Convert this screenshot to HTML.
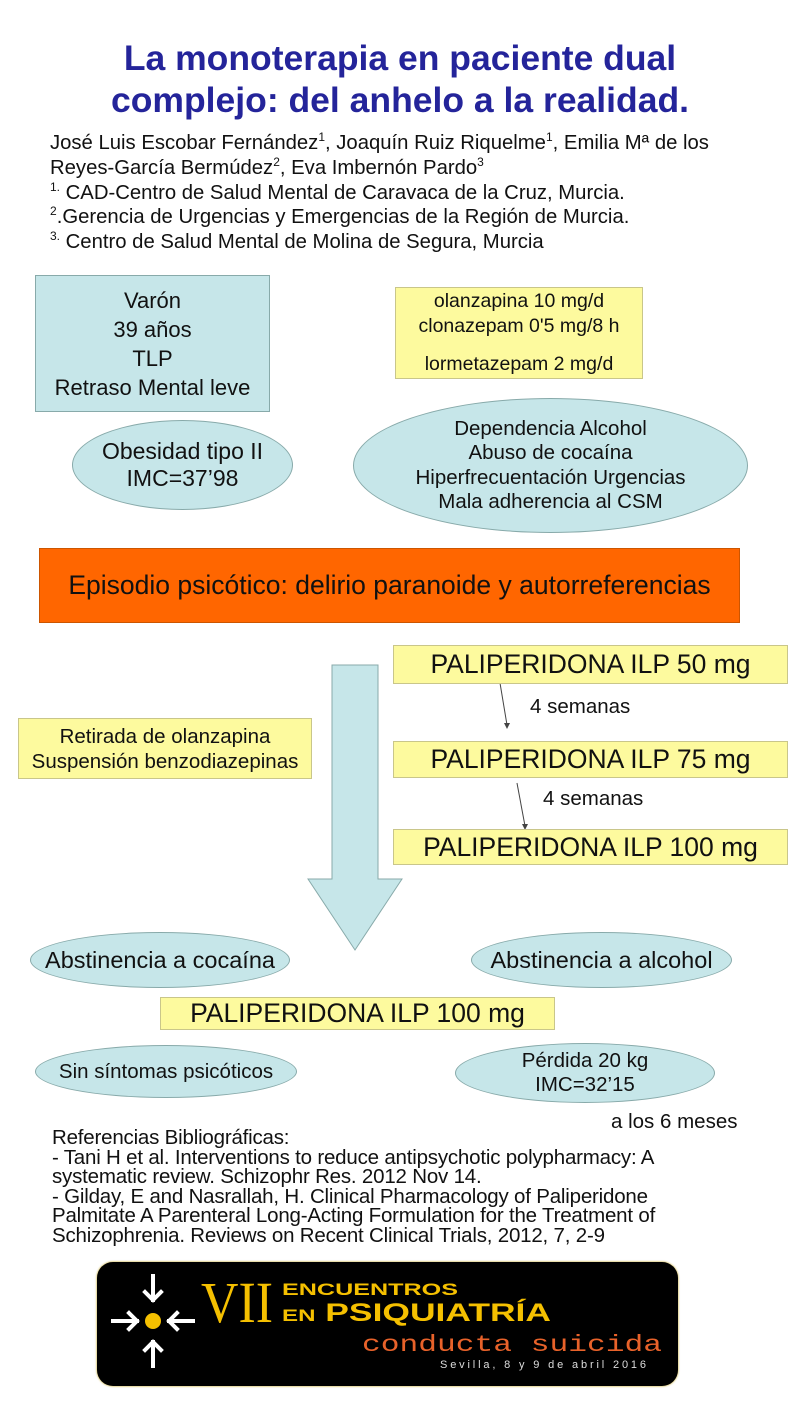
<!DOCTYPE html>
<html><head><meta charset="utf-8"><style>
*{margin:0;padding:0;box-sizing:border-box}
body{width:800px;height:1422px;background:#fff;position:relative;overflow:hidden;font-family:"Liberation Sans",Arial,sans-serif;color:#111}
.a{position:absolute}
.box{position:absolute;display:flex;flex-direction:column;align-items:center;justify-content:center;text-align:center;white-space:nowrap}
.y{background:#fdfa9e;border:1px solid #c9c68a}
.b{background:#c6e6e9;border:1px solid #8aa}
.e{background:#c6e6e9;border:1px solid #8aa;border-radius:50%}
.t{position:absolute;white-space:nowrap}
sup{font-size:12px;line-height:0}
</style></head><body>
<div class="box" style="left:0;top:34px;width:800px;height:90px;color:#24249a;font-weight:bold;font-size:35.5px;line-height:42px">La monoterapia en paciente dual<br>complejo: del anhelo a la realidad.</div>
<div class="a" style="left:50px;top:131px;font-size:20.3px;line-height:24.8px;white-space:nowrap">
José Luis Escobar Fernández<sup>1</sup>, Joaquín Ruiz Riquelme<sup>1</sup>, Emilia Mª de los<br>
Reyes-García Bermúdez<sup>2</sup>, Eva Imbernón Pardo<sup>3</sup><br>
<sup>1.</sup> CAD-Centro de Salud Mental de Caravaca de la Cruz, Murcia.<br>
<sup>2</sup>.Gerencia de Urgencias y Emergencias de la Región de Murcia.<br>
<sup>3.</sup> Centro de Salud Mental de Molina de Segura, Murcia</div>

<div class="box b" style="left:35px;top:275px;width:235px;height:137px;font-size:22px;line-height:29px">Varón<br>39 años<br>TLP<br>Retraso Mental leve</div>
<div class="box y" style="left:395px;top:287px;width:248px;height:92px;font-size:19.5px;line-height:25px">olanzapina 10 mg/d<br>clonazepam 0'5 mg/8 h<br><span style="margin-top:13px">lormetazepam 2 mg/d</span></div>
<div class="box e" style="left:72px;top:420px;width:221px;height:90px;font-size:23px;line-height:27px">Obesidad tipo II<br>IMC=37’98</div>
<div class="box e" style="left:353px;top:398px;width:395px;height:135px;font-size:20.5px;line-height:24.5px">Dependencia Alcohol<br>Abuso de cocaína<br>Hiperfrecuentación Urgencias<br>Mala adherencia al CSM</div>
<div class="box" style="left:39px;top:548px;width:701px;height:75px;background:#ff6600;border:1px solid #c50;font-size:26.5px">Episodio psicótico: delirio paranoide y autorreferencias</div>

<svg class="a" style="left:0;top:0" width="800" height="1422">
<polygon points="332,665 378,665 378,879 402,879 355,950 308,879 332,879" fill="#c6e6e9" stroke="#8aa" stroke-width="1"/>
<line x1="500" y1="683" x2="507" y2="725" stroke="#444" stroke-width="1"/>
<polygon points="504,723 510,723 507,729" fill="#444"/>
<line x1="517" y1="783" x2="525" y2="826" stroke="#444" stroke-width="1"/>
<polygon points="522,824 528,824 525,830" fill="#444"/>
</svg>
<div class="box y" style="left:393px;top:645px;width:395px;height:39px;font-size:26.5px">PALIPERIDONA ILP 50 mg</div>
<div class="box y" style="left:393px;top:741px;width:395px;height:37px;font-size:26.5px">PALIPERIDONA ILP 75 mg</div>
<div class="box y" style="left:393px;top:829px;width:395px;height:36px;font-size:26.5px">PALIPERIDONA ILP 100 mg</div>
<div class="t" style="left:530px;top:695px;font-size:20.5px">4 semanas</div>
<div class="t" style="left:543px;top:787px;font-size:20.5px">4 semanas</div>
<div class="box y" style="left:18px;top:718px;width:294px;height:61px;font-size:20.5px;line-height:25px">Retirada de olanzapina<br>Suspensión benzodiazepinas</div>

<div class="box e" style="left:30px;top:932px;width:260px;height:56px;font-size:23.5px">Abstinencia a cocaína</div>
<div class="box e" style="left:471px;top:932px;width:261px;height:56px;font-size:23.5px">Abstinencia a alcohol</div>
<div class="box y" style="left:160px;top:997px;width:395px;height:33px;font-size:26.5px">PALIPERIDONA ILP 100 mg</div>
<div class="box e" style="left:35px;top:1045px;width:262px;height:53px;font-size:20.5px">Sin síntomas psicóticos</div>
<div class="box e" style="left:455px;top:1043px;width:260px;height:60px;font-size:20.5px;line-height:24px">Pérdida 20 kg<br>IMC=32’15</div>
<div class="t" style="left:611px;top:1110px;font-size:20.5px">a los 6 meses</div>
<div class="a" style="left:52px;top:1128px;font-size:20.5px;line-height:19.5px;letter-spacing:-0.2px;white-space:nowrap">Referencias Bibliográficas:<br>- Tani H et al. Interventions to reduce antipsychotic polypharmacy: A<br>systematic review. Schizophr Res. 2012 Nov 14.<br>- Gilday, E and Nasrallah, H. Clinical Pharmacology of Paliperidone<br>Palmitate A Parenteral Long-Acting Formulation for the Treatment of<br>Schizophrenia. Reviews on Recent Clinical Trials, 2012, 7, 2-9</div>

<div class="a" style="left:97px;top:1262px;width:581px;height:124px;background:#000;border-radius:16px;box-shadow:0 0 2px #b90"></div>
<svg class="a" style="left:97px;top:1262px" width="581" height="124">
<circle cx="56" cy="59" r="8" fill="#f5c000"/>
<g stroke="#fff" stroke-width="4" fill="none" stroke-linecap="square">
<path d="M56 14v24M48 30l8 8 8-8"/>
<path d="M56 104v-24M48 88l8-8 8 8"/>
<path d="M16 59h24M32 51l8 8-8 8"/>
<path d="M96 59h-24M80 51l-8 8 8 8"/>
</g>
<text x="104" y="60" font-family="Liberation Serif,serif" font-size="58" fill="#f5c000" textLength="72" lengthAdjust="spacingAndGlyphs">VII</text>
<text x="185" y="33" font-family="Liberation Sans,sans-serif" font-weight="bold" font-size="17" fill="#f5c000" textLength="176" lengthAdjust="spacingAndGlyphs">ENCUENTROS</text>
<text x="185" y="59" font-family="Liberation Sans,sans-serif" font-weight="bold" font-size="25" fill="#f5c000" textLength="269" lengthAdjust="spacingAndGlyphs"><tspan font-size="17">EN</tspan> PSIQUIATRÍA</text>
<text x="265" y="89" font-family="Liberation Mono,monospace" font-size="23" fill="#e8622a" textLength="300" lengthAdjust="spacingAndGlyphs">conducta suicida</text>
<text x="343" y="106" font-family="Liberation Sans,sans-serif" font-size="11" fill="#ddd" textLength="206">Sevilla, 8 y 9 de abril 2016</text>
</svg>
</body></html>
